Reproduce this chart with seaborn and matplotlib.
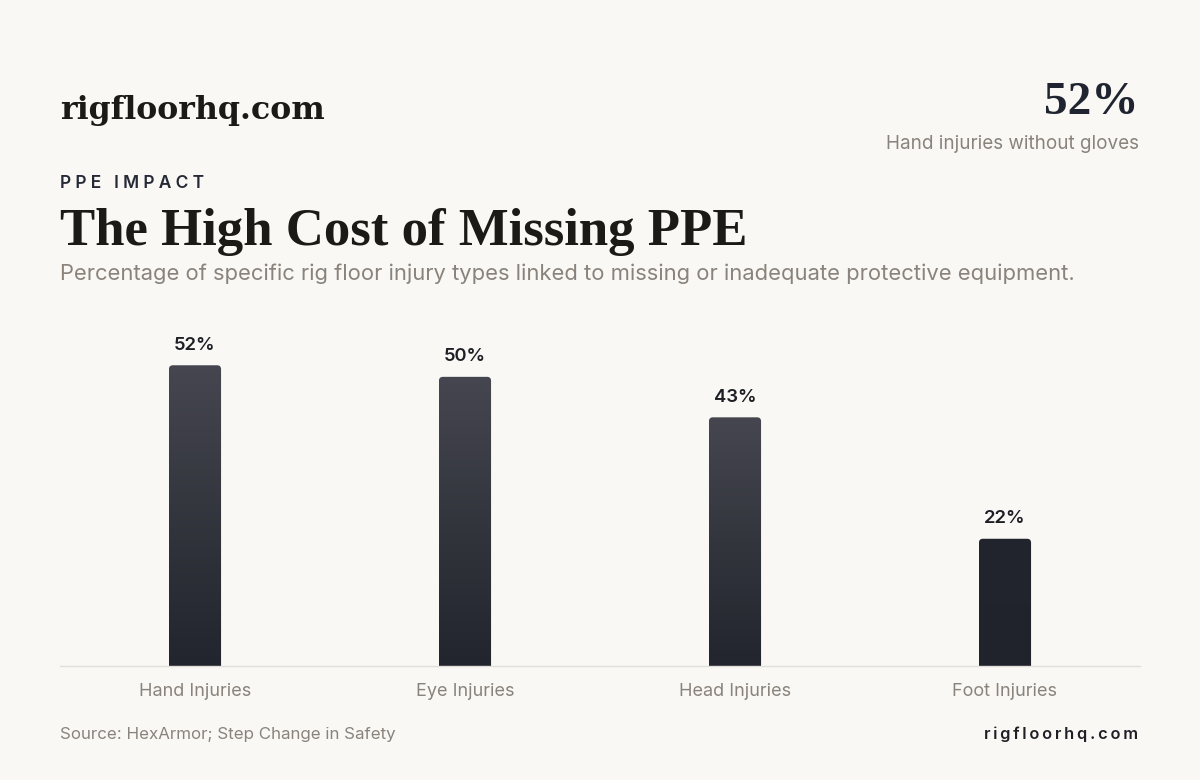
import numpy as np
import pandas as pd
import matplotlib
matplotlib.use("Agg")
import matplotlib.pyplot as plt
import seaborn as sns
from matplotlib.colors import LinearSegmentedColormap
from matplotlib.patches import FancyBboxPatch

# data
categories = ["Hand Injuries", "Eye Injuries", "Head Injuries", "Foot Injuries"]
values = [52, 50, 43, 22]
value_labels = ["52%", "50%", "43%", "22%"]

bg = "#f9f8f5"
sns.set_theme(style="white")
plt.rcParams['font.family'] = ['Inter', 'DejaVu Sans']

df = pd.DataFrame({"Injury": categories, "Pct": values})

fig = plt.figure(figsize=(12, 7.8), dpi=100, facecolor=bg)
ax = fig.add_axes([0.05, 1 - 666 / 780, 0.9, 347 / 780])
ax.set_facecolor(bg)

sns.barplot(data=df, x="Injury", y="Pct", color="#2b2e37", width=0.193,
            saturation=1, ax=ax)
ax.set_ylim(0, 60)
ax.set_xlim(-0.5, 3.5)

# gradient fill clipped to a rounded-top shape for each bar
grad = LinearSegmentedColormap.from_list("g", ["#22252d", "#45464f"])
solid = LinearSegmentedColormap.from_list("s", ["#20232c", "#22252e"])
rx = 4 * 4 / 1080      # 4 px in x data units
ry = 4 * 60 / 347      # 4 px in y data units
for i, p in enumerate(list(ax.patches)):
    x0, w, h = p.get_x(), p.get_width(), p.get_height()
    p.set_visible(False)
    shape = FancyBboxPatch((x0, -2), w, h + 2,
                           boxstyle=f"round,pad=0,rounding_size={rx}",
                           mutation_aspect=ry / rx,
                           facecolor="none", edgecolor="none")
    ax.add_patch(shape)
    cmap = solid if i == 3 else grad
    im = ax.imshow(np.linspace(0, 1, 256).reshape(-1, 1), cmap=cmap,
                   origin="lower", aspect="auto",
                   extent=[x0, x0 + w, 0, h], zorder=2)
    im.set_clip_path(shape)
    ax.text(x0 + w / 2, h + 2.0, value_labels[i], ha="center", va="bottom",
            fontsize=13.3, fontweight="semibold", color="#1e1f24")
ax.set_xlim(-0.5, 3.5)
ax.set_ylim(0, 60)

sns.despine(ax=ax, left=True, top=True, right=True)
ax.spines["bottom"].set_color("#e2dfda")
ax.spines["bottom"].set_linewidth(1)
ax.set_yticks([])
ax.set_xlabel("")
ax.set_ylabel("")
ax.tick_params(axis="x", length=0, pad=12, labelsize=13, labelcolor="#8a837b")

# header texts
fig.text(60 / 1200, 1 - 110 / 780, "rigfloorhq.com", family="DejaVu Serif",
         fontweight="bold", fontsize=22.8, color="#1c1a17", va="center",
         ha="left")
fig.text(1139 / 1200, 1 - 103 / 780, "52%", family="Liberation Serif",
         fontweight="bold", fontsize=34, color="#1f2430", va="center",
         ha="right")
fig.text(1139 / 1200, 1 - 144 / 780, "Hand injuries without gloves",
         fontsize=13.6, color="#8a837b", va="center", ha="right")
fig.text(60 / 1200, 1 - 184 / 780,
         "P\u2009\u200aP\u2009\u200aE\u2009\u200a \u2009\u200aI\u2009\u200aM\u2009\u200aP\u2009\u200aA\u2009\u200aC\u2009\u200aT",
         fontsize=12.5, fontweight="semibold", color="#252a36", va="center",
         ha="left")
fig.text(60 / 1200, 1 - 232 / 780, "The High Cost of Missing PPE",
         family="Liberation Serif", fontweight="bold", fontsize=38,
         color="#1c1a17", va="center", ha="left")
fig.text(60 / 1200, 1 - 274 / 780,
         "Percentage of specific rig floor injury types linked to missing or inadequate protective equipment.",
         fontsize=15.8, color="#8a837b", va="center", ha="left")

# footer
fig.text(60 / 1200, 1 - 734 / 780, "Source: HexArmor; Step Change in Safety",
         fontsize=12.2, color="#8a837b", va="center", ha="left")
fig.text(1138 / 1200, 1 - 734 / 780,
         "r\u2009i\u2009g\u2009f\u2009l\u2009o\u2009o\u2009r\u2009h\u2009q\u2009.\u2009c\u2009o\u2009m",
         fontsize=11.8, fontweight="semibold", color="#1e1f24", va="center",
         ha="right")

fig.savefig("out.png", dpi=100, facecolor=bg)
